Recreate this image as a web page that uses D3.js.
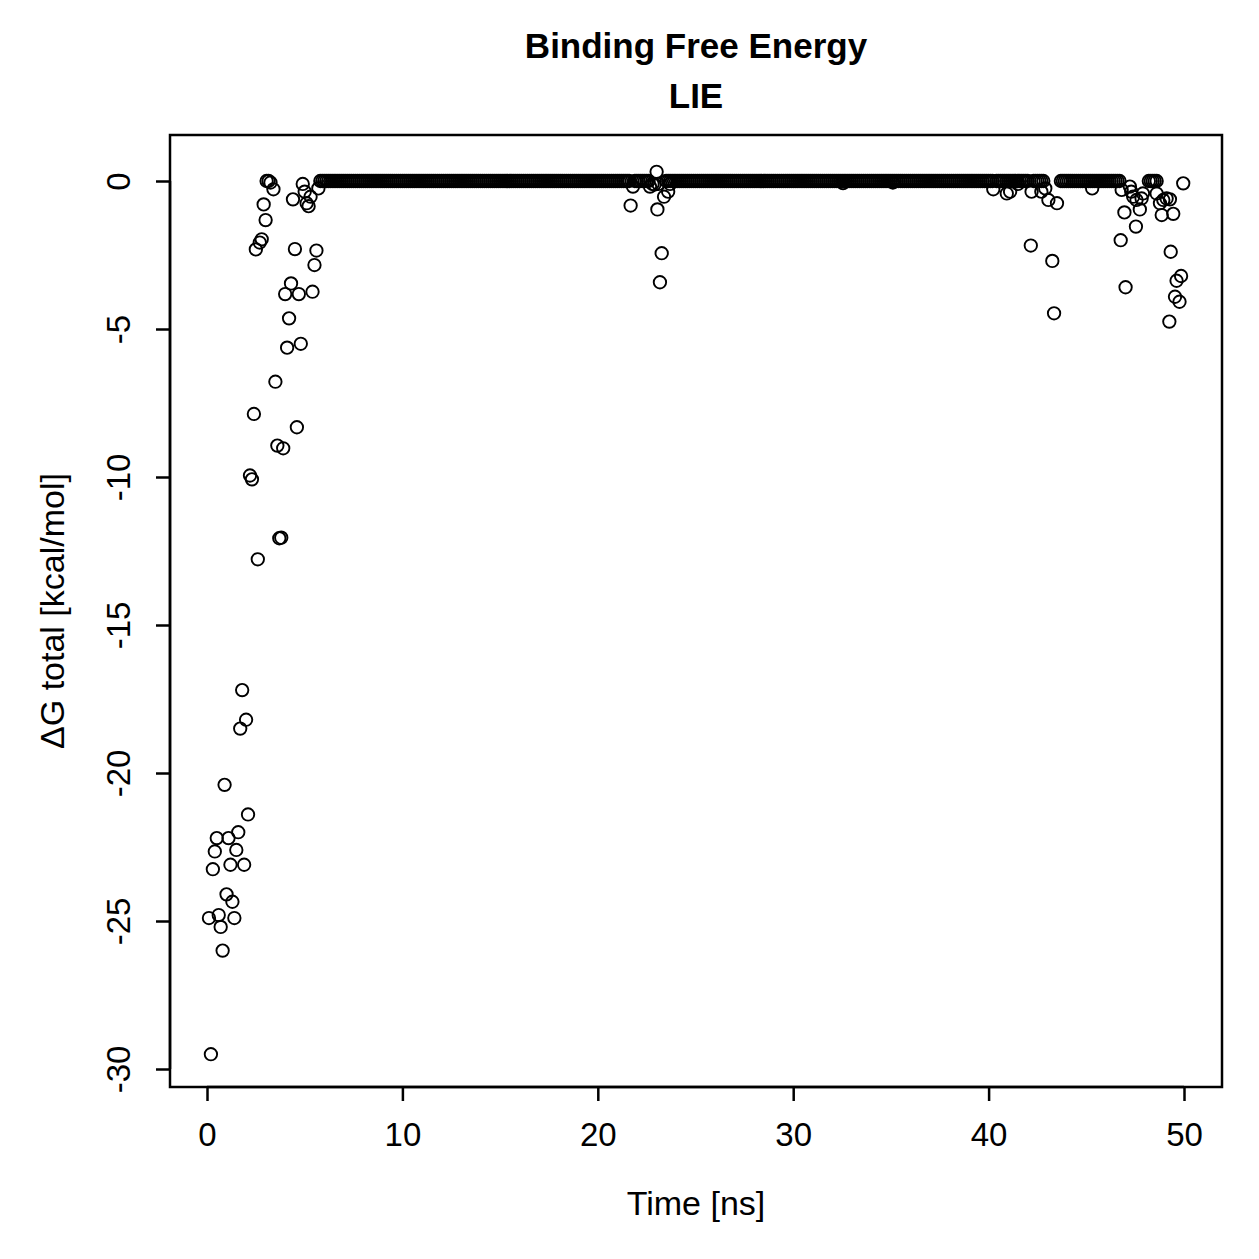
<!DOCTYPE html>
<html>
<head>
<meta charset="utf-8">
<script src="https://cdn.jsdelivr.net/npm/d3@7"></script>
<style>
  body { margin: 0; background: #fff; }
  text { font-family: "Liberation Sans", Arial, sans-serif; fill: #000; }
</style>
</head>
<body>
<div id="chart"></div>
<script>
// Non-zero (scattered) samples: time [ns] and dG [kcal/mol]
const scatterTime = [
  0.1, 0.2, 0.3, 0.4, 0.5, 0.6, 0.7, 0.8, 0.9, 1.0, 1.1, 1.2, 1.3, 1.4, 1.5, 1.6, 1.7, 1.8, 1.9, 2.0, 2.1,
  2.2, 2.3, 2.4, 2.5, 2.6, 2.7, 2.8, 2.9, 3.0, 3.05, 3.15, 3.25, 3.4, 3.5, 3.6, 3.7, 3.8, 3.9, 4.0,
  4.1, 4.2, 4.3, 4.4, 4.5, 4.6, 4.7, 4.8, 4.9, 5.0, 5.1, 5.2, 5.3, 5.4, 5.5, 5.6, 5.7,
  21.68, 21.8, 22.67, 22.8, 22.9, 23.01, 23.05, 23.1, 23.18, 23.27, 23.39, 23.6, 23.7,
  32.55, 35.1,
  40.24, 40.93, 41.1, 41.5, 42.16, 42.2, 42.7, 42.9, 43.06, 43.26, 43.35, 43.5, 45.3,
  46.76, 46.81, 46.95, 47.01, 47.23, 47.3, 47.4, 47.54, 47.57, 47.74, 47.83, 47.9,
  48.6, 48.77, 48.86, 48.94, 49.11, 49.25, 49.28, 49.32, 49.45, 49.54, 49.62, 49.77, 49.85, 49.96
];
const scatterDG = [
  -24.9, -29.5, -23.25, -22.65, -22.2, -24.8, -25.2, -26.0, -20.4, -24.1, -22.2, -23.1, -24.35, -24.9, -22.6, -22.0, -18.5, -17.2, -23.1, -18.2, -21.4,
  -9.95, -10.08, -7.87, -2.31, -12.78, -2.08, -1.97, -0.79, -1.32, 0, 0, -0.05, -0.28, -6.78, -8.94, -12.07, -12.05, -9.03, -3.82,
  -5.63, -4.64, -3.46, -0.62, -2.30, -8.32, -3.82, -5.5, -0.1, -0.36, -0.75, -0.85, -0.53, -3.74, -2.84, -2.35, -0.25,
  -0.83, -0.19, -0.19, -0.1, -0.12, 0.31, -0.96, -0.1, -3.42, -2.44, -0.53, -0.36, -0.1,
  -0.07, -0.05,
  -0.28, -0.42, -0.36, -0.1, -2.18, -0.36, -0.36, -0.25, -0.64, -2.70, -4.47, -0.75, -0.25,
  -2.0, -0.3, -1.06, -3.59, -0.19, -0.36, -0.53, -1.54, -0.64, -0.96, -0.59, -0.42,
  -0.42, -0.75, -1.15, -0.64, -0.59, -4.75, -0.62, -2.39, -1.11, -3.91, -3.37, -4.08, -3.21, -0.08
];
// Stretches where the trajectory sits at dG = 0 (sampled every 0.1 ns)
const zeroRuns = [[5.8, 21.6], [21.9, 22.6], [23.5, 40.2], [40.4, 42.0], [42.3, 42.8], [43.7, 46.7], [48.2, 48.6]];
const xTicks = [0, 10, 20, 30, 40, 50];
const yTicks = [0, -5, -10, -15, -20, -25, -30];

const width = 1259, height = 1259;
const box = { left: 170, right: 1222, top: 135, bottom: 1087 };

// build the point list
let points = scatterTime.map((t, i) => ({ t: t, dg: scatterDG[i] }));
zeroRuns.forEach(function(run){
    const n = Math.round((run[1] - run[0]) * 10);
    for (let k = 0; k <= n; k++) {
        points.push({ t: +(run[0] + k / 10).toFixed(1), dg: 0 });
    }
});

const x = d3.scaleLinear().domain([0, 50]).range([207, 1184]);
const y = d3.scaleLinear().domain([0, -30]).range([181, 1069]);

// R style labels: plain hyphen for negatives
const fmt = d => String(d);

const svg = d3.select('#chart').append('svg')
    .attr('width', width)
    .attr('height', height);

// points
svg.append('g')
  .selectAll('circle')
  .data(points)
  .join('circle')
    .attr('cx', d => x(d.t))
    .attr('cy', d => y(d.dg))
    .attr('r', 6.2)
    .attr('fill', 'none')
    .attr('stroke', '#000')
    .attr('stroke-width', 1.9);

// frame
svg.append('rect')
    .attr('x', box.left)
    .attr('y', box.top)
    .attr('width', box.right - box.left)
    .attr('height', box.bottom - box.top)
    .attr('fill', 'none')
    .attr('stroke', '#000')
    .attr('stroke-width', 2.5);

// x axis
const xAxis = svg.append('g')
    .attr('transform', 'translate(0,' + box.bottom + ')')
    .call(d3.axisBottom(x).tickValues(xTicks).tickSize(14).tickPadding(22).tickFormat(fmt));
xAxis.select('.domain').attr('d', 'M' + x(0) + ',0H' + x(50)).attr('stroke-width', 2.5);
xAxis.selectAll('.tick line').attr('stroke-width', 2.5);
xAxis.selectAll('.tick text').style('font-size', '33px').attr('fill', '#000');

// y axis
const yAxis = svg.append('g')
    .attr('transform', 'translate(' + box.left + ',0)')
    .call(d3.axisLeft(y).tickValues(yTicks).tickSize(14).tickFormat(fmt));
yAxis.select('.domain').attr('d', 'M0,' + y(0) + 'V' + y(-30)).attr('stroke-width', 2.5);
yAxis.selectAll('.tick line').attr('stroke-width', 2.5);
yAxis.selectAll('.tick text')
    .style('font-size', '33px')
    .attr('fill', '#000')
    .attr('x', null).attr('dy', null)
    .attr('text-anchor', 'middle')
    .attr('transform', 'translate(-40,0) rotate(-90)');

// titles
svg.append('text')
    .attr('x', 696).attr('y', 58)
    .attr('text-anchor', 'middle')
    .style('font-size', '35px').style('font-weight', 'bold')
    .text('Binding Free Energy');
svg.append('text')
    .attr('x', 696).attr('y', 108)
    .attr('text-anchor', 'middle')
    .style('font-size', '35px').style('font-weight', 'bold')
    .text('LIE');
svg.append('text')
    .attr('x', 696).attr('y', 1215)
    .attr('text-anchor', 'middle')
    .style('font-size', '34px')
    .text('Time [ns]');
svg.append('text')
    .attr('transform', 'translate(64,' + ((box.top + box.bottom) / 2) + ') rotate(-90)')
    .attr('text-anchor', 'middle')
    .style('font-size', '34px')
    .text('ΔG total [kcal/mol]');
</script>
</body>
</html>
